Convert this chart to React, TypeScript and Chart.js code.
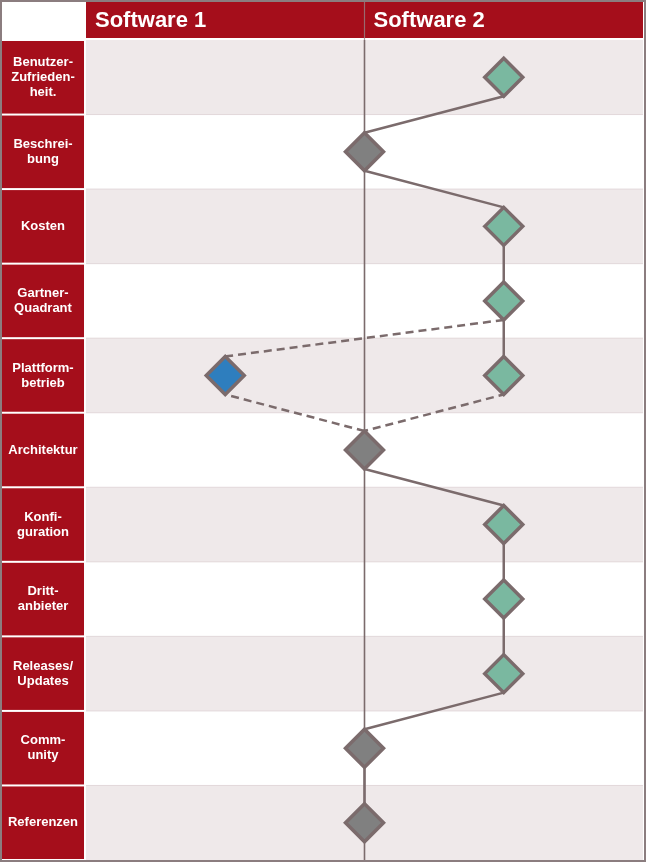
import React, { useEffect, useRef } from "react";
import { Chart, registerables } from "chart.js";

Chart.register(...registerables);

// ---------- data ----------
const categories: string[][] = [
  ["Benutzer-", "Zufrieden-", "heit."],
  ["Beschrei-", "bung"],
  ["Kosten"],
  ["Gartner-", "Quadrant"],
  ["Plattform-", "betrieb"],
  ["Architektur"],
  ["Konfi-", "guration"],
  ["Dritt-", "anbieter"],
  ["Releases/", "Updates"],
  ["Comm-", "unity"],
  ["Referenzen"],
];
const columnLabels = ["Software 1", "Software 2"];
const columnStarts = [-2, 0];
// rating per criterion: 1 = Software 2 better, 0 = equal, -1 = Software 1 better
const software2Values = [1, 0, 1, 1, 1, 0, 1, 1, 1, 0, 0];
// alternative (dashed) rating where it differs
const software1Values: (number | null)[] = [null, null, null, null, -1, null, null, null, null, null, null];

// ---------- style ----------
const W = 646;
const H = 862;
const RED = "#a50e1b";
const ROW = "#efe9ea";
const SEP = "#e2d8da";
const FRAME = "#8b7d7f";
const LINE = "#7b6b6c";
const fillFor = (v: number) => (v > 0 ? "#7ab8a0" : v < 0 ? "#2e7ebe" : "#808080");
const TIP = 0.255; // diamond half-height in row units
const FONT = "'Liberation Sans', Arial, Helvetica, sans-serif";

const dashedRows = software1Values
  .map((v, i) => (v !== null ? i : -1))
  .filter((i) => i >= 0);

const tablePlugin = {
  id: "tableBg",
  beforeDraw(chart: any) {
    const { ctx, chartArea: a, scales } = chart;
    const xs = scales.x;
    const ys = scales.y;
    ctx.save();
    ctx.fillStyle = "#ffffff";
    ctx.fillRect(0, 0, W, H);

    // header
    ctx.fillStyle = RED;
    ctx.fillRect(a.left, 2, a.right - a.left, a.top - 4);
    ctx.fillStyle = "#ffffff";
    ctx.font = `bold 22px ${FONT}`;
    ctx.textAlign = "left";
    ctx.textBaseline = "middle";
    columnLabels.forEach((lab, k) => {
      ctx.fillText(lab, xs.getPixelForValue(columnStarts[k]) + 9, 21);
    });

    // rows + labels
    categories.forEach((lines, i) => {
      const top = ys.getPixelForValue(i - 0.5);
      const bot = ys.getPixelForValue(i + 0.5);
      if (i % 2 === 0) {
        ctx.fillStyle = ROW;
        ctx.fillRect(a.left, top, a.right - a.left, bot - top);
      }
      if (i > 0) {
        ctx.fillStyle = SEP;
        ctx.fillRect(a.left, top - 0.5, a.right - a.left, 1);
      }
      ctx.fillStyle = RED;
      ctx.fillRect(2, top + 1, a.left - 4, bot - top - 2);
      ctx.fillStyle = "#ffffff";
      ctx.font = `bold 13px ${FONT}`;
      ctx.textAlign = "center";
      ctx.textBaseline = "middle";
      const lh = 15;
      const cy = (top + bot) / 2;
      lines.forEach((t, j) => {
        ctx.fillText(t, 43, cy + (j - (lines.length - 1) / 2) * lh);
      });
    });

    // central vertical line
    const x0 = xs.getPixelForValue(0);
    ctx.strokeStyle = "rgba(150,130,132,0.8)";
    ctx.lineWidth = 1.2;
    ctx.beginPath();
    ctx.moveTo(x0, 2);
    ctx.lineTo(x0, a.top);
    ctx.stroke();
    ctx.strokeStyle = LINE;
    ctx.lineWidth = 1.6;
    ctx.beginPath();
    ctx.moveTo(x0, a.top);
    ctx.lineTo(x0, a.bottom);
    ctx.stroke();

    // frame
    ctx.strokeStyle = FRAME;
    ctx.lineWidth = 2;
    ctx.strokeRect(1, 1, W - 2, H - 2);
    ctx.restore();
  },
};

export default function App() {
  const ref = useRef<HTMLCanvasElement | null>(null);

  useEffect(() => {
    if (!ref.current) return;

    const sw2Diamonds = software2Values.map((v, i) => ({ x: v, y: i }));
    const sw1Diamonds = software1Values
      .map((v, i) => (v !== null ? { x: v, y: i } : null))
      .filter(Boolean) as { x: number; y: number }[];

    const sw2Line = software2Values.flatMap((v, i) => [
      { x: v, y: i - TIP },
      { x: v, y: i + TIP },
    ]);
    const sw1Line: any[] = [];
    software1Values.forEach((v, i) => {
      if (v === null) return;
      if (i > 0) sw1Line.push({ x: software2Values[i - 1], y: i - 1 + TIP });
      sw1Line.push({ x: v, y: i - TIP });
      sw1Line.push({ x: v, y: i + TIP });
      if (i < software2Values.length - 1) sw1Line.push({ x: software2Values[i + 1], y: i + 1 - TIP });
    });

    const dash = [8, 5];
    const diamond = {
      pointStyle: "rectRot",
      pointRadius: 19,
      pointBorderWidth: 3.5,
      pointBorderColor: LINE,
      showLine: false,
    };
    const chart = new Chart(ref.current, {
      type: "scatter",
      data: {
        datasets: [
          {
            label: "Software 1 diamonds",
            data: sw1Diamonds,
            ...diamond,
            pointBackgroundColor: sw1Diamonds.map((p) => fillFor(p.x)),
          } as any,
          {
            label: "Software 2 diamonds",
            data: sw2Diamonds,
            ...diamond,
            pointBackgroundColor: sw2Diamonds.map((p) => fillFor(p.x)),
          } as any,
          {
            label: "Software 1 line",
            data: sw1Line,
            showLine: true,
            borderColor: LINE,
            borderWidth: 2.5,
            borderDash: dash,
            pointRadius: 0,
            tension: 0,
          },
          {
            label: "Software 2 line",
            data: sw2Line,
            showLine: true,
            borderColor: LINE,
            borderWidth: 2.5,
            pointRadius: 0,
            tension: 0,
            segment: {
              borderDash: (c: any) => {
                const p = c.p0DataIndex;
                return dashedRows.some((r) => p >= 2 * r - 1 && p <= 2 * r + 1) ? dash : undefined;
              },
            },
          } as any,
        ],
      },
      options: {
        responsive: false,
        animation: false,
        events: [],
        devicePixelRatio: 1,
        layout: { autoPadding: false, padding: { left: 86, right: 3, top: 40, bottom: 2 } },
        plugins: { legend: { display: false }, tooltip: { enabled: false } },
        scales: {
          x: { type: "linear", min: -2, max: 2, display: false },
          y: { type: "linear", min: -0.5, max: categories.length - 0.5, reverse: true, display: false },
        },
      },
      plugins: [tablePlugin],
    });
    return () => chart.destroy();
  }, []);

  return (
    <div style={{ position: "fixed", left: 0, top: 0, width: W, height: H, background: "#fff" }}>
      <canvas ref={ref} width={W} height={H} style={{ display: "block", width: W, height: H }} />
    </div>
  );
}
